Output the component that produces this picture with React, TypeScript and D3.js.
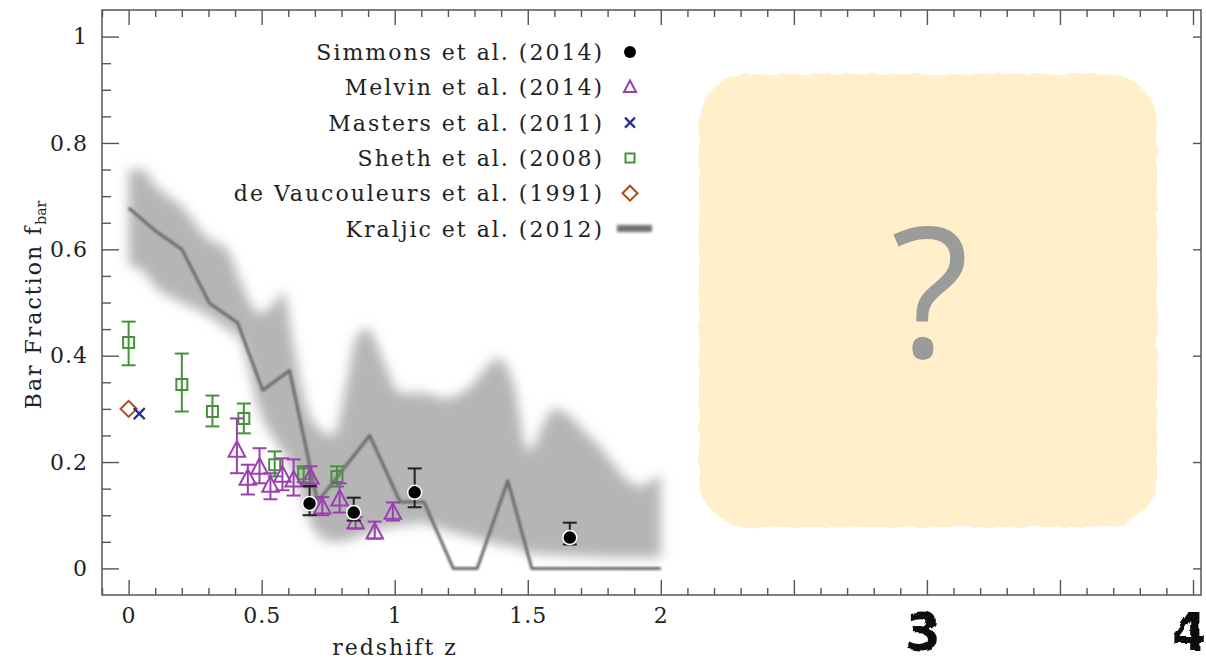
import React, { useEffect, useRef } from "react";
import * as d3 from "d3";

const width = 1206;
const height = 666;

// [z, f, lower, upper]
const simmons = [
  [0.68, 0.122, 0.1, 0.155],
  [0.846, 0.105, 0.09, 0.133],
  [1.075, 0.143, 0.115, 0.188],
  [1.658, 0.058, 0.045, 0.086],
];

const melvin = [
  [0.407, 0.222, 0.179, 0.282],
  [0.448, 0.169, 0.139, 0.195],
  [0.492, 0.19, 0.16, 0.226],
  [0.533, 0.156, 0.13, 0.179],
  [0.578, 0.175, 0.147, 0.207],
  [0.62, 0.166, 0.137, 0.205],
  [0.683, 0.171, 0.153, 0.192],
  [0.728, 0.115, 0.1, 0.134],
  [0.793, 0.13, 0.105, 0.16],
  [0.853, 0.087, 0.075, 0.096],
  [0.925, 0.068, 0.056, 0.088],
  [0.993, 0.105, 0.09, 0.124],
];

const sheth = [
  [0, 0.425, 0.382, 0.464],
  [0.2, 0.346, 0.295, 0.404],
  [0.315, 0.295, 0.267, 0.325],
  [0.433, 0.282, 0.254, 0.31],
  [0.549, 0.195, 0.173, 0.22],
  [0.658, 0.178, 0.162, 0.192],
  [0.783, 0.173, 0.154, 0.192],
];

const masters = [[0.04, 0.291]];
const deVaucouleurs = [[0, 0.3]];

// Kraljic et al. (2012) median line and spread
const kraljicZ = [0, 0.1, 0.2, 0.305, 0.41, 0.504, 0.605, 0.71, 0.906, 1.02, 1.11, 1.22, 1.31, 1.425, 1.515, 2.0];
const kraljicF = [0.678, 0.635, 0.6, 0.498, 0.462, 0.335, 0.372, 0.125, 0.25, 0.125, 0.125, 0, 0, 0.165, 0, 0];

const bandZ = [0, 0.05, 0.1, 0.2, 0.3, 0.37, 0.42, 0.49, 0.55, 0.58, 0.62, 0.66, 0.7, 0.77, 0.82, 0.86, 0.9, 0.95, 1.02, 1.1, 1.2, 1.28, 1.39, 1.45, 1.5, 1.6, 1.75, 1.92, 2.0];
const bandHi = [0.75, 0.75, 0.72, 0.68, 0.62, 0.6, 0.54, 0.48, 0.5, 0.52, 0.42, 0.32, 0.27, 0.25, 0.35, 0.44, 0.45, 0.4, 0.33, 0.33, 0.32, 0.34, 0.395, 0.34, 0.22, 0.3, 0.24, 0.155, 0.178];
const bandLo = [0.57, 0.56, 0.53, 0.5, 0.475, 0.45, 0.43, 0.3, 0.24, 0.22, 0.18, 0.12, 0.07, 0.05, 0.052, 0.06, 0.066, 0.075, 0.08, 0.085, 0.07, 0.06, 0.045, 0.04, 0.03, 0.025, 0.022, 0.02, 0.02];

const legendLabels = [
  "Simmons et al. (2014)",
  "Melvin et al. (2014)",
  "Masters et al. (2011)",
  "Sheth et al. (2008)",
  "de Vaucouleurs et al. (1991)",
  "Kraljic et al. (2012)",
];

const xLabelTicks = [0, 0.5, 1, 1.5, 2];
const handTicks = ["3", "4"];

const green = "#45923a";
const purple = "#9c3fb2";
const blue = "#2a2a9c";
const brown = "#b04a1c";
const serif = "DejaVu Serif";

const App = () => {
  const svgRef = useRef<SVGSVGElement>(null);

  useEffect(() => {
    const svg = d3.select(svgRef.current);
    svg.selectAll("*").remove();

    const x = d3.scaleLinear().domain([-0.1, 4.03]).range([102, 1201]);
    const y = d3.scaleLinear().domain([-0.05, 1.05]).range([595, 10]);

    const defs = svg.append("defs");
    defs
      .append("filter")
      .attr("id", "bandBlur")
      .attr("x", "-10%").attr("y", "-10%").attr("width", "120%").attr("height", "120%")
      .append("feGaussianBlur")
      .attr("stdDeviation", 6);
    defs
      .append("filter")
      .attr("id", "lineBlur")
      .attr("x", "-10%").attr("y", "-10%").attr("width", "120%").attr("height", "120%")
      .append("feGaussianBlur")
      .attr("stdDeviation", 0.8);
    defs
      .append("filter")
      .attr("id", "keyBlur")
      .attr("x", "-30%").attr("y", "-100%").attr("width", "160%").attr("height", "300%")
      .append("feGaussianBlur")
      .attr("stdDeviation", 1.5);
    const rough = defs.append("filter").attr("id", "rough");
    rough
      .append("feTurbulence")
      .attr("type", "fractalNoise")
      .attr("baseFrequency", 0.09)
      .attr("numOctaves", 2)
      .attr("result", "noise");
    rough
      .append("feDisplacementMap")
      .attr("in", "SourceGraphic")
      .attr("in2", "noise")
      .attr("scale", 5);

    // Kraljic spread band
    const band = bandZ.map((z, i) => [z, bandLo[i], bandHi[i]]);
    const area = d3
      .area<number[]>()
      .x((d) => x(d[0]))
      .y0((d) => y(d[1]))
      .y1((d) => y(d[2]))
      .curve(d3.curveMonotoneX);
    svg
      .append("path")
      .datum(band)
      .attr("d", area)
      .attr("fill", "#b5b5b5")
      .attr("filter", "url(#bandBlur)");

    const line = d3
      .line<number>()
      .x((d) => x(d))
      .y((d, i) => y(kraljicF[i]));
    svg
      .append("path")
      .datum(kraljicZ)
      .attr("d", line)
      .attr("fill", "none")
      .attr("stroke", "#6b6b6b")
      .attr("stroke-width", 3)
      .attr("stroke-linejoin", "round")
      .attr("filter", "url(#lineBlur)");

    // error bars
    const errorBars = (data: number[][], color: string) => {
      const g = svg.append("g").attr("stroke", color).attr("stroke-width", 2).attr("fill", "none");
      data.forEach((d) => {
        const cx = x(d[0]);
        g.append("line").attr("x1", cx).attr("x2", cx).attr("y1", y(d[2])).attr("y2", y(d[3]));
        g.append("line").attr("x1", cx - 7).attr("x2", cx + 7).attr("y1", y(d[2])).attr("y2", y(d[2]));
        g.append("line").attr("x1", cx - 7).attr("x2", cx + 7).attr("y1", y(d[3])).attr("y2", y(d[3]));
      });
    };

    const tri = (s: number) => `M0,${-s * 0.62}L${s * 0.55},${s * 0.42}L${-s * 0.55},${s * 0.42}Z`;
    const sq = (s: number) => `M${-s / 2},${-s / 2}h${s}v${s}h${-s}Z`;
    const dia = (s: number) => `M0,${-s / 2}L${s / 2},0L0,${s / 2}L${-s / 2},0Z`;
    const cross = (s: number) => `M${-s / 2},${-s / 2}L${s / 2},${s / 2}M${s / 2},${-s / 2}L${-s / 2},${s / 2}`;

    errorBars(sheth, green);
    svg
      .append("g")
      .selectAll("path")
      .data(sheth)
      .join("path")
      .attr("transform", (d) => `translate(${x(d[0])},${y(d[1])})`)
      .attr("d", sq(11))
      .attr("fill", "none")
      .attr("stroke", green)
      .attr("stroke-width", 2);

    errorBars(melvin, purple);
    svg
      .append("g")
      .selectAll("path")
      .data(melvin)
      .join("path")
      .attr("transform", (d) => `translate(${x(d[0])},${y(d[1])})`)
      .attr("d", tri(15))
      .attr("fill", "none")
      .attr("stroke", purple)
      .attr("stroke-width", 2);

    errorBars(simmons, "#222");
    svg
      .append("g")
      .selectAll("circle")
      .data(simmons)
      .join("circle")
      .attr("cx", (d) => x(d[0]))
      .attr("cy", (d) => y(d[1]))
      .attr("r", 7)
      .attr("fill", "#000")
      .attr("stroke", "#fff")
      .attr("stroke-width", 1.5);

    svg
      .append("g")
      .selectAll("path")
      .data(deVaucouleurs)
      .join("path")
      .attr("transform", (d) => `translate(${x(d[0])},${y(d[1])})`)
      .attr("d", dia(16))
      .attr("fill", "none")
      .attr("stroke", brown)
      .attr("stroke-width", 2);

    svg
      .append("g")
      .selectAll("path")
      .data(masters)
      .join("path")
      .attr("transform", (d) => `translate(${x(d[0])},${y(d[1])})`)
      .attr("d", cross(11))
      .attr("fill", "none")
      .attr("stroke", blue)
      .attr("stroke-width", 2.2);

    // axes
    const major = d3.range(0, 4.01, 0.5);
    const minor = d3.range(-0.1, 4.03, 0.1).filter((v) => Math.abs(v * 2 - Math.round(v * 2)) > 0.01);
    const yMajor = d3.range(0, 1.01, 0.2);
    const yMinor = d3.range(0.05, 1.01, 0.05).filter((v) => Math.abs(v * 5 - Math.round(v * 5)) > 0.01);

    const styleAxis = (g: any) => {
      g.select(".domain").remove();
      g.selectAll("line").attr("stroke", "#555").attr("stroke-width", 1.4);
      g.selectAll("text")
        .attr("font-family", serif)
        .attr("font-size", 22)
        .attr("letter-spacing", 1)
        .attr("fill", "#222");
    };

    svg
      .append("g")
      .attr("transform", "translate(0,595)")
      .call(
        d3.axisBottom(x).tickValues(major).tickSize(-15).tickPadding(12)
          .tickFormat((d: any) => (xLabelTicks.includes(+d) ? d3.format("")(+d) : ""))
      )
      .call(styleAxis);
    svg
      .append("g")
      .attr("transform", "translate(0,595)")
      .call(d3.axisBottom(x).tickValues(minor).tickSize(-7).tickFormat(() => ""))
      .call(styleAxis);
    svg
      .append("g")
      .attr("transform", "translate(0,10)")
      .call(d3.axisTop(x).tickValues(major).tickSize(-15).tickFormat(() => ""))
      .call(styleAxis);
    svg
      .append("g")
      .attr("transform", "translate(0,10)")
      .call(d3.axisTop(x).tickValues(minor).tickSize(-7).tickFormat(() => ""))
      .call(styleAxis);
    svg
      .append("g")
      .attr("transform", "translate(102,0)")
      .call(d3.axisLeft(y).tickValues(yMajor).tickSize(-17).tickPadding(14).tickFormat(d3.format("")))
      .call(styleAxis);
    svg
      .append("g")
      .attr("transform", "translate(102,0)")
      .call(d3.axisLeft(y).tickValues(yMinor).tickSize(-9).tickFormat(() => ""))
      .call(styleAxis);
    svg
      .append("g")
      .attr("transform", "translate(1201,0)")
      .call(d3.axisRight(y).tickValues(yMajor).tickSize(-8).tickFormat(() => ""))
      .call(styleAxis);

    // frame
    svg
      .append("rect")
      .attr("x", 102)
      .attr("y", 10)
      .attr("width", 1201 - 102)
      .attr("height", 595 - 10)
      .attr("fill", "none")
      .attr("stroke", "#555")
      .attr("stroke-width", 1.5);

    // hand-written extra ticks
    svg
      .append("g")
      .selectAll("text")
      .data(handTicks)
      .join("text")
      .attr("x", (d) => x(+d) - 4)
      .attr("y", 650)
      .attr("text-anchor", "middle")
      .attr("font-family", "DejaVu Sans")
      .attr("font-weight", "bold")
      .attr("font-size", 52)
      .attr("fill", "#111")
      .attr("filter", "url(#rough)")
      .text((d) => d);

    // axis titles
    svg
      .append("text")
      .attr("x", 395)
      .attr("y", 655)
      .attr("text-anchor", "middle")
      .attr("font-family", serif)
      .attr("font-size", 22)
      .attr("letter-spacing", 2)
      .attr("fill", "#222")
      .text("redshift z");

    const yl = svg
      .append("text")
      .attr("transform", "translate(41,305) rotate(-90)")
      .attr("text-anchor", "middle")
      .attr("font-family", serif)
      .attr("font-size", 22)
      .attr("letter-spacing", 2)
      .attr("fill", "#222");
    yl.append("tspan").text("Bar Fraction f");
    yl.append("tspan").attr("font-size", 14).attr("dy", 5).attr("letter-spacing", 0).text("bar");

    // legend
    const legend = svg.append("g");
    const rowY = (i: number) => 52 + i * 35.3;
    legend
      .selectAll("text")
      .data(legendLabels)
      .join("text")
      .attr("x", 604)
      .attr("y", (d, i) => rowY(i) + 8)
      .attr("text-anchor", "end")
      .attr("font-family", serif)
      .attr("font-size", 22)
      .attr("letter-spacing", 2)
      .attr("fill", "#222")
      .text((d) => d);
    const lx = 630;
    legend.append("circle").attr("cx", lx).attr("cy", rowY(0)).attr("r", 6).attr("fill", "#000");
    legend.append("path").attr("transform", `translate(${lx},${rowY(1)})`).attr("d", tri(11))
      .attr("fill", "none").attr("stroke", purple).attr("stroke-width", 2);
    legend.append("path").attr("transform", `translate(${lx},${rowY(2)})`).attr("d", cross(10))
      .attr("fill", "none").attr("stroke", blue).attr("stroke-width", 2.2);
    legend.append("path").attr("transform", `translate(${lx},${rowY(3)})`).attr("d", sq(9))
      .attr("fill", "none").attr("stroke", green).attr("stroke-width", 2);
    legend.append("path").attr("transform", `translate(${lx},${rowY(4)})`).attr("d", dia(15))
      .attr("fill", "none").attr("stroke", brown).attr("stroke-width", 2);
    legend.append("rect").attr("x", 617).attr("y", rowY(5) - 3.5).attr("width", 35).attr("height", 7)
      .attr("fill", "#707070").attr("filter", "url(#keyBlur)");

    // placeholder box
    svg
      .append("rect")
      .attr("x", 699)
      .attr("y", 74)
      .attr("width", 458)
      .attr("height", 453)
      .attr("rx", 50)
      .attr("fill", "#fff0cb")
      .attr("filter", "url(#rough)");
    svg
      .append("text")
      .attr("x", 930)
      .attr("y", 358)
      .attr("text-anchor", "middle")
      .attr("font-family", "Open Sans")
      .attr("font-size", 182)
      .attr("fill", "#9b9b9b")
      .text("?");
  }, []);

  return (
    <svg
      ref={svgRef}
      width={width}
      height={height}
      style={{ position: "absolute", left: 0, top: 0, background: "#fff" }}
    />
  );
};

export default App;
